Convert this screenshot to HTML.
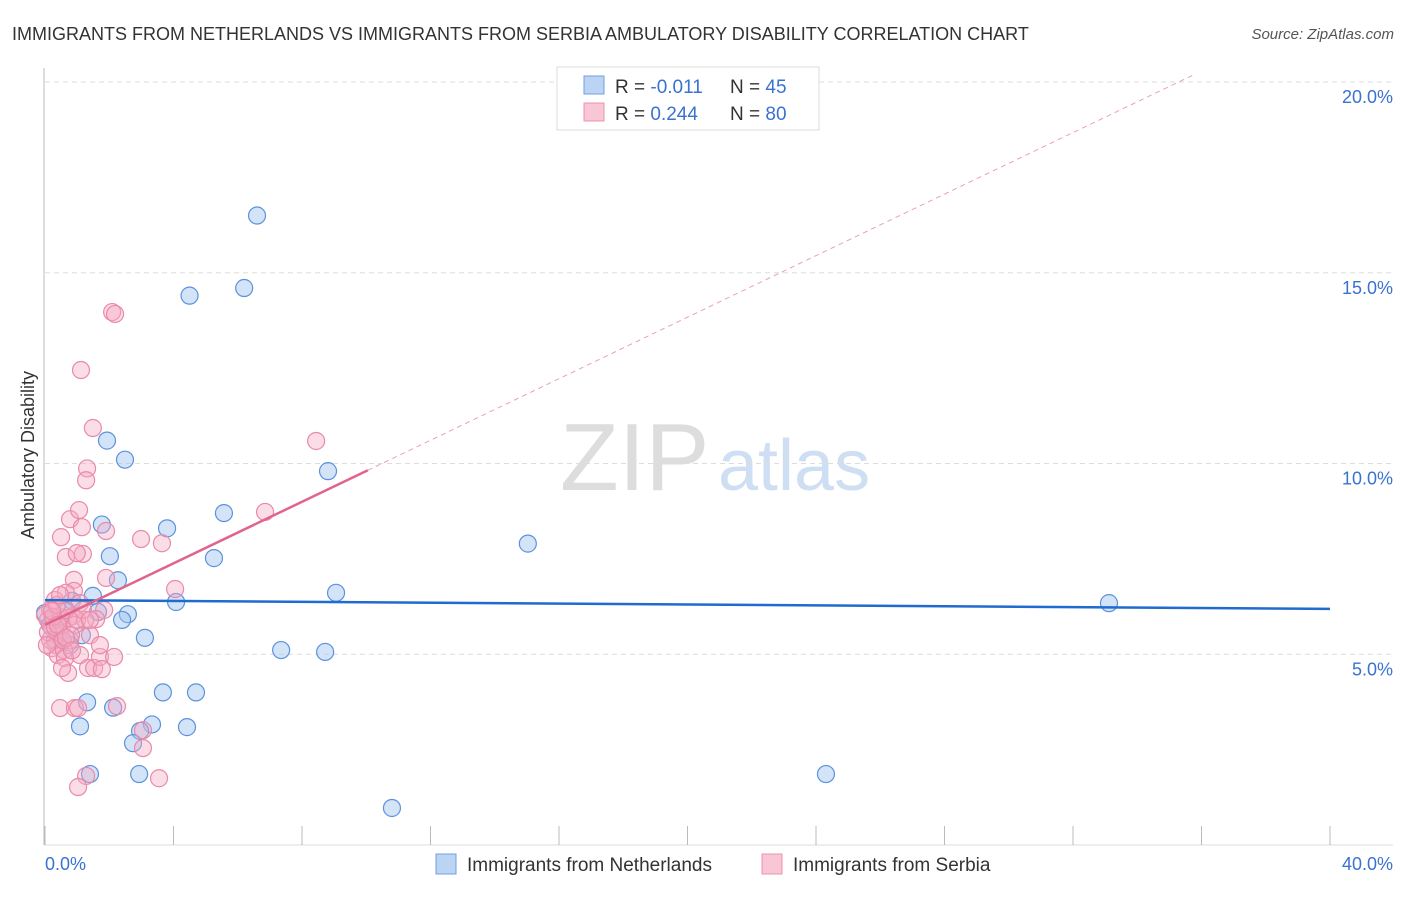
<!DOCTYPE html>
<html><head><meta charset="utf-8"><style>
body{margin:0;background:#fff;font-family:"Liberation Sans",sans-serif}
svg text{font-family:"Liberation Sans",sans-serif}
</style></head><body>
<svg width="1406" height="892">
<text x="12" y="40" font-size="18" fill="#333">IMMIGRANTS FROM NETHERLANDS VS IMMIGRANTS FROM SERBIA AMBULATORY DISABILITY CORRELATION CHART</text>
<text x="1394" y="39" font-size="15" fill="#555" font-style="italic" text-anchor="end">Source: ZipAtlas.com</text>
<text x="560" y="490" font-size="96" fill="#ddd" font-family="Liberation Serif">ZIP</text>
<text x="718" y="490" font-size="72" fill="#cfdff3">atlas</text>
<g id="grid"></g><g id="axes"></g><g id="marks"></g>
<text transform="translate(34,455) rotate(-90)" font-size="18" fill="#333" text-anchor="middle">Ambulatory Disability</text>
<text x="45" y="870" font-size="18" fill="#3a72d0">0.0%</text>
<text x="1393" y="870" font-size="18" fill="#3a72d0" text-anchor="end">40.0%</text>
<g>
<rect x="557" y="67" width="262" height="63" fill="#fff" stroke="#ddd"/>
<rect x="584" y="76" width="20" height="18" fill="#bcd4f4" stroke="#6fa0e0"/>
<rect x="584" y="103" width="20" height="18" fill="#f9c6d5" stroke="#eb93ad"/>
<text x="615" y="93" font-size="19" fill="#333">R = <tspan fill="#3a72d0">-0.011</tspan><tspan x="730">N = </tspan><tspan fill="#3a72d0">45</tspan></text>
<text x="615" y="120" font-size="19" fill="#333">R = <tspan fill="#3a72d0"> 0.244</tspan><tspan x="730">N = </tspan><tspan fill="#3a72d0">80</tspan></text>
</g>
<g>
<rect x="436" y="854" width="20" height="20" fill="#bcd4f4" stroke="#6fa0e0"/>
<text x="467" y="871" font-size="19" fill="#333">Immigrants from Netherlands</text>
<rect x="762" y="854" width="20" height="20" fill="#f9c6d5" stroke="#eb93ad"/>
<text x="793" y="871" font-size="19" fill="#333">Immigrants from Serbia</text>
</g>
</svg>
<script>
const yTicks=[5,10,15,20];
const yTickLabels=["5.0%","10.0%","15.0%","20.0%"];
const blueX=[6.6,4.5,6.2,1.93,2.49,8.81,1.77,3.8,5.57,15.03,2.02,5.26,2.27,9.06,1.49,0.84,4.08,1.65,2.58,2.4,0,3.11,7.35,8.72,1.15,0.53,3.67,4.7,1.31,2.12,3.33,1.09,4.42,2.96,2.74,1.4,2.93,24.31,10.8,33.12,0.47,0.31,0.78,0.16,0.62];
const blueY=[16.5,14.4,14.6,10.6,10.1,9.8,8.4,8.3,8.7,7.9,7.57,7.52,6.94,6.61,6.53,6.4,6.37,6.11,6.05,5.9,6.08,5.43,5.11,5.06,5.5,5.37,4.0,4.0,3.74,3.6,3.16,3.11,3.09,2.99,2.67,1.86,1.86,1.86,0.97,6.34,5.9,5.37,5.24,5.77,6.13];
const pinkX=[2.09,2.18,1.12,1.49,8.44,1.31,1.28,0.78,1.06,1.15,1.9,6.85,0.5,2.99,3.64,0.65,1.18,0.99,1.9,0.9,0.9,0.65,4.05,1.09,1.84,1.59,0.87,1.4,0.31,0.16,0.09,0.22,0.40,0.53,0.72,0.34,0.16,0.47,0.65,0.78,0.93,1.25,0,0.09,0.22,0.40,0.59,1.09,1.34,1.53,0.62,0.72,0.53,1.71,2.15,1.77,0.47,0.93,1.03,2.24,3.05,3.05,1.28,1.03,3.55,0.31,0.25,0.37,0.56,0.81,0.996,1.18,0.47,0.06,0.22,0.40,0.65,0.84,1.4,1.71];
const pinkY=[13.97,13.92,12.45,10.93,10.59,9.87,9.56,8.54,8.78,8.33,8.23,8.73,8.07,8.02,7.91,7.55,7.63,7.65,7.0,6.95,6.66,6.61,6.71,6.34,6.16,5.92,6.0,5.5,6.42,6.16,5.9,5.69,5.5,5.77,5.95,5.24,5.37,5.98,6.16,5.37,5.77,5.9,6.03,5.58,5.16,4.98,5.11,4.98,4.64,4.64,4.9,4.51,4.64,4.93,4.93,4.61,3.59,3.59,3.59,3.64,3.01,2.54,1.81,1.52,1.75,5.71,5.98,6.29,5.37,5.5,5.9,6.16,6.55,5.24,6.13,5.77,5.43,5.1,5.9,5.24];
const blueTrend=[6.42,6.19];
const pinkTrend=[5.77,21.9];
const NS="http://www.w3.org/2000/svg";
const X0=45,X1=1330,Y0=845,PY=38.15;
const sx=v=>X0+(X1-X0)*v/40, sy=v=>Y0-v*PY;
function mk(t,a,p){const e=document.createElementNS(NS,t);for(const k in a)e.setAttribute(k,a[k]);p.appendChild(e);return e;}
const grid=document.getElementById('grid'),axes=document.getElementById('axes'),marks=document.getElementById('marks');
yTicks.forEach((v,i)=>{
 const l=mk('line',{x1:45,x2:1393,y1:sy(v),y2:sy(v),stroke:'#ddd','stroke-dasharray':'5,4'},grid);
 
 
 const t=mk('text',{x:1393,y:sy(v)+21,'font-size':18,fill:'#3a72d0','text-anchor':'end'},axes);
 t.textContent=yTickLabels[i];
 
 
});
const ax=mk('line',{x1:44,x2:44,y1:68,y2:845,stroke:'#bbb'},axes);


const bx=mk('line',{x1:44,x2:1393,y1:845,y2:845,stroke:'#ddd'},axes);


for(let i=0;i<=10;i++){const t=mk('line',{x1:sx(i*4),x2:sx(i*4),y1:826,y2:845,stroke:'#bbb'},axes);
 
 }
blueX.forEach((v,i)=>{const c=mk('circle',{cx:sx(v),cy:sy(blueY[i]),r:8.5,fill:'rgba(160,195,240,0.45)',stroke:'#5b92dc','stroke-width':1.2},marks);
 
 });
pinkX.forEach((v,i)=>{const c=mk('circle',{cx:sx(v),cy:sy(pinkY[i]),r:8.5,fill:'rgba(245,170,195,0.4)',stroke:'#e98aa8','stroke-width':1.2},marks);
 
 });
const b=mk('line',{x1:sx(0),y1:sy(blueTrend[0]),x2:sx(40),y2:sy(blueTrend[1]),stroke:'#1f6bd0','stroke-width':2.5},marks);


const pAt=x=>pinkTrend[0]+(pinkTrend[1]-pinkTrend[0])*x/40;
const ps=mk('line',{x1:sx(0),y1:sy(pAt(0)),x2:sx(10.05),y2:sy(pAt(10.05)),stroke:'#e0648c','stroke-width':2.5},marks);


const xe=40*(20.2-pinkTrend[0])/(pinkTrend[1]-pinkTrend[0]);
const pd=mk('line',{x1:sx(10.05),y1:sy(pAt(10.05)),x2:sx(xe),y2:sy(20.2),stroke:'#eaa0b8','stroke-width':1,'stroke-dasharray':'5,4'},marks);


</script>
</body></html>
